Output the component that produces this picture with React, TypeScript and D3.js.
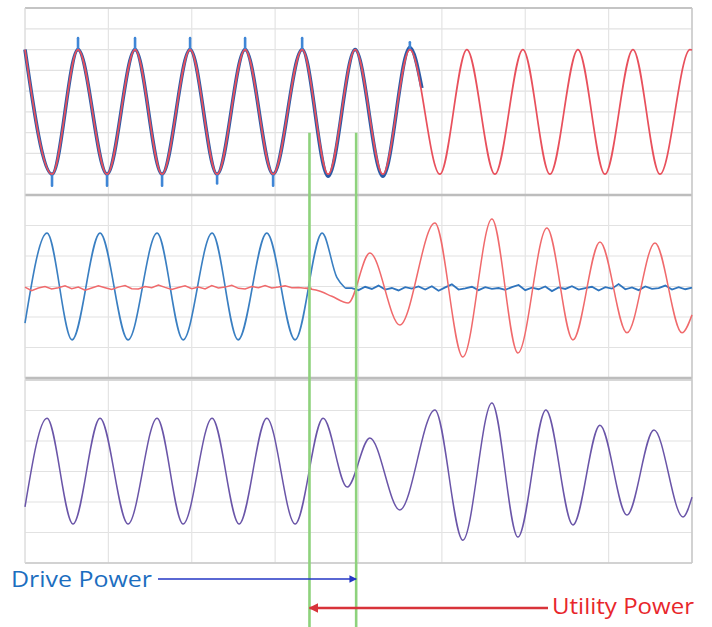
import * as d3 from 'd3';

// time axis: 0..200 ms, 8 divisions of 25 ms
const timeGrid = [0, 25, 50, 75, 100, 125, 150, 175, 200];
const voltGrid = [-4, -3, -2, -1, 0, 1, 2, 3, 4, 5];
const currentGrid = [-3, -2, -1, 0, 1, 2, 3];

// transfer window (ms)
const transferStart = 85.3;
const transferEnd = 99.3;

// panel 1 - voltage [t ms, divisions]
const utilityVoltage: [number, number][] = [
	[0, 3.0], [8.1, -3], [15.9, 3], [24.6, -3], [33.0, 3], [41.1, -3], [49.5, 3], [57.6, -3],
	[66.0, 3], [74.4, -3], [83.1, 3], [90.9, -3], [99.0, 3], [107.3, -3], [115.4, 3], [124.4, -3],
	[132.5, 3], [140.9, -3], [149.3, 3], [157.4, -3], [165.8, 3], [173.9, -3], [182.3, 3],
	[190.4, -3], [199.4, 3], [200, 2.98],
];
const driveVoltage: [number, number][] = [
	[0, 3.0], [8.1, -3], [15.9, 3], [24.6, -3], [33.0, 3], [41.1, -3], [49.5, 3], [57.6, -3],
	[66.0, 3], [74.4, -3], [83.1, 3], [90.9, -3.1], [99.0, 3], [107.3, -3.1], [115.4, 3.1], [119.0, 1.15],
];
const driveVoltageSpikes: [number, number][] = [
	[8.1, -3.55], [15.9, 3.55], [24.6, -3.55], [33.0, 3.55], [41.1, -3.55], [49.5, 3.55], [57.6, -3.45],
	[66.0, 3.55], [74.4, -3.55], [83.1, 3.55], [115.4, 3.35],
];

// panel 2 - currents
const driveCurrent: [number, number][] = [
	[0, -1.2], [6.6, 1.75], [14.1, -1.75], [22.5, 1.75], [30.9, -1.75], [39.6, 1.75], [47.4, -1.75],
	[56.1, 1.75], [63.9, -1.75], [72.5, 1.75], [81.0, -1.75], [89.1, 1.75], [93.5, 0.3], [96.0, -0.05],
];
// residual noise after drive drops out, sampled every 2 ms from 98 ms
const driveResidual = [
	0.0, -0.07, 0.04, -0.03, 0.08, -0.05, 0.0, -0.08, 0.03, -0.02, 0.05, -0.05, 0.06, -0.09, 0.02,
	0.12, -0.05, -0.01, 0.04, -0.07, 0.03, -0.03, 0.0, -0.06, 0.03, 0.1, -0.07, 0.01, -0.04, 0.05,
	-0.1, 0.02, -0.03, 0.06, -0.05, 0.0, 0.04, -0.08, 0.03, -0.02, 0.13, -0.04, 0.02, -0.07, 0.05,
	-0.03, 0.0, 0.08, -0.05, 0.03, -0.04, 0.01,
];
// utility current idle noise, sampled every 2 ms from 0 ms
const utilityIdle = [
	-0.02, -0.14, -0.05, 0.0, -0.08, -0.04, 0.02, -0.07, -0.02, -0.12, -0.05, 0.02, -0.04, -0.1,
	-0.02, 0.03, -0.07, -0.08, 0.0, -0.04, 0.05, -0.03, -0.1, -0.03, 0.02, -0.07, -0.02, -0.08, 0.03,
	-0.05, -0.02, 0.04, -0.06, -0.08, 0.0, -0.04, 0.03, -0.05, -0.02, 0.02, -0.04, -0.03, -0.06,
];
const utilityCurrent: [number, number][] = [
	[84, -0.06], [88, -0.14], [92, -0.32], [96.9, -0.54], [103.4, 1.1], [112.4, -1.26], [122.9, 2.08],
	[131.3, -2.31], [140.0, 2.21], [147.8, -2.18], [156.5, 1.92], [164.3, -1.75], [172.4, 1.46],
	[180.5, -1.52], [188.9, 1.43], [197.0, -1.52], [200, -0.93],
];

// panel 3 - load current
const loadCurrent: [number, number][] = [
	[0, -1.16], [6.6, 1.75], [14.4, -1.72], [22.5, 1.75], [30.9, -1.72], [39.6, 1.75], [47.4, -1.72],
	[56.1, 1.75], [64.2, -1.72], [72.5, 1.75], [81.0, -1.72], [89.4, 1.75], [96.6, -0.51],
	[103.4, 1.1], [112.4, -1.26], [122.9, 2.02], [131.3, -2.25], [140.0, 2.25], [147.8, -2.15],
	[156.2, 2.02], [164.3, -1.75], [172.4, 1.52], [180.5, -1.43], [188.6, 1.36], [197.3, -1.49],
	[200, -0.84],
];

const W = 712;
const H = 627;
const left = 25;
const right = 692;
const p1 = {top: 8, bottom: 195};
const p2 = {top: 195, bottom: 378};
const p3 = {top: 380, bottom: 563};

export default function App() {
	const x = d3.scaleLinear().domain([0, 200]).range([left, right]);
	const y1 = d3.scaleLinear().domain([-4, 5]).range([p1.bottom, p1.top]);
	const y2 = d3.scaleLinear().domain([-3, 3]).range([p2.bottom, p2.top]);
	const y3 = d3.scaleLinear().domain([-3, 3]).range([p3.bottom, p3.top]);

	const mk = (ys: d3.ScaleLinear<number, number>, curve: d3.CurveFactory = d3.curveMonotoneX) =>
		d3
			.line<[number, number]>()
			.x((d) => x(d[0]))
			.y((d) => ys(d[1]))
			.curve(curve);

	const residualPts: [number, number][] = [
		[96, -0.05],
		...driveResidual.map((v, i) => [98 + i * 2, v - 0.05] as [number, number]).filter((d) => d[0] <= 200),
	];
	const idlePts: [number, number][] = [...utilityIdle.map((v, i) => [i * 2, v] as [number, number]), [86, -0.06]];

	const panels = [
		{p: p1, ys: y1, grid: voltGrid},
		{p: p2, ys: y2, grid: currentGrid},
		{p: p3, ys: y3, grid: currentGrid},
	];

	const greenTop = y1(-1);

	return (
		<svg
			width={W}
			height={H}
			style={{position: 'absolute', left: 0, top: 0, background: '#fff'}}
			fontFamily="'Open Sans', sans-serif"
		>
			<defs>
				<marker id="blueHead" viewBox="0 0 10 10" refX="9" refY="5" markerWidth="5" markerHeight="5" orient="auto">
					<path d="M0,0 L10,5 L0,10 z" fill="#2336c4" />
				</marker>
				<marker id="redHead" viewBox="0 0 10 10" refX="9" refY="5" markerWidth="4" markerHeight="4" orient="auto">
					<path d="M0,0 L10,5 L0,10 z" fill="#d8333a" />
				</marker>
			</defs>

			{/* grid */}
			{panels.map(({p, ys, grid}, i) => (
				<g key={i}>
					{grid.map((g) => (
						<line key={g} x1={left} x2={right} y1={ys(g)} y2={ys(g)} stroke="#e2e2e2" strokeWidth={1.2} />
					))}
					{timeGrid.map((t) => (
						<line key={t} x1={x(t)} x2={x(t)} y1={p.top} y2={p.bottom} stroke="#e4e4e4" strokeWidth={1.2} />
					))}
				</g>
			))}
			<line x1={left} x2={right} y1={p1.top} y2={p1.top} stroke="#c4c4c4" strokeWidth={2} />
			<line x1={left} x2={right} y1={p1.bottom} y2={p1.bottom} stroke="#bdbdbd" strokeWidth={2.5} />
			<line x1={left} x2={right} y1={p2.bottom} y2={p2.bottom} stroke="#bdbdbd" strokeWidth={2.5} />
			<line x1={left} x2={right} y1={p3.top} y2={p3.top} stroke="#cfcfcf" strokeWidth={1.5} />
			<line x1={left} x2={right} y1={p3.bottom} y2={p3.bottom} stroke="#c8c8c8" strokeWidth={1.5} />
			<line x1={right} x2={right} y1={p1.top} y2={p3.bottom} stroke="#c8c8c8" strokeWidth={1.5} />
			<line x1={left} x2={left} y1={p1.top} y2={p3.bottom} stroke="#dcdcdc" strokeWidth={1} />

			{/* panel 1 */}
			<path d={mk(y1)(driveVoltage) ?? ''} fill="none" stroke="#2c5aa6" strokeWidth={3.6} />
			{driveVoltageSpikes.map(([t, v], i) => (
				<line
					key={i}
					x1={x(t)}
					x2={x(t)}
					y1={y1(v > 0 ? 3 : -3)}
					y2={y1(v)}
					stroke="#3f86d6"
					strokeWidth={2.6}
					strokeLinecap="round"
				/>
			))}
			<path d={mk(y1)(utilityVoltage) ?? ''} fill="none" stroke="#e8505c" strokeWidth={1.7} />

			{/* panel 2 */}
			<path d={mk(y2)(driveCurrent) ?? ''} fill="none" stroke="#3a7fc2" strokeWidth={1.6} />
			<path d={mk(y2, d3.curveLinear)(residualPts) ?? ''} fill="none" stroke="#2f74bd" strokeWidth={1.8} />
			<path d={mk(y2, d3.curveLinear)(idlePts) ?? ''} fill="none" stroke="#f06a6c" strokeWidth={1.5} />
			<path d={mk(y2)(utilityCurrent) ?? ''} fill="none" stroke="#f06a6c" strokeWidth={1.5} />

			{/* panel 3 */}
			<path d={mk(y3)(loadCurrent) ?? ''} fill="none" stroke="#6a55a8" strokeWidth={1.5} />

			{/* transfer markers */}
			{[transferStart, transferEnd].map((t) => (
				<line key={t} x1={x(t)} x2={x(t)} y1={greenTop} y2={H} stroke="#8ed27c" strokeWidth={2.6} />
			))}

			<line x1={158} x2={x(transferEnd)} y1={579} y2={579} stroke="#2336c4" strokeWidth={1.5} markerEnd="url(#blueHead)" />
			<line x1={548} x2={x(transferStart)} y1={608} y2={608} stroke="#d8333a" strokeWidth={2.4} markerEnd="url(#redHead)" />

			<text x={11} y={587} fontSize={21} fill="#1c6ebf" textLength={141} lengthAdjust="spacingAndGlyphs">
				Drive Power
			</text>
			<text x={552} y={614} fontSize={21} fill="#e8262b" textLength={142} lengthAdjust="spacingAndGlyphs">
				Utility Power
			</text>
		</svg>
	);
}
